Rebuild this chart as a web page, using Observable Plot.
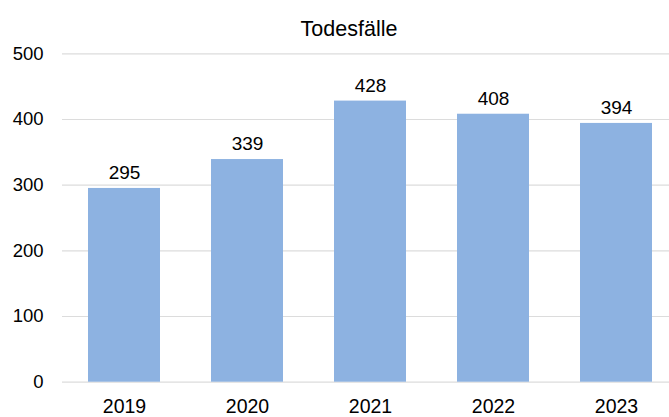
<!DOCTYPE html>
<html>
<head>
<meta charset="utf-8">
<script src="https://cdn.jsdelivr.net/npm/d3@7"></script>
<script src="https://cdn.jsdelivr.net/npm/@observablehq/plot@0.6"></script>
<style>
  html, body { margin: 0; padding: 0; background: #fff; }
  svg { display: block; }
</style>
</head>
<body>
<div id="chart"></div>
<script>
const title = "Todesfälle";
const years = ["2019", "2020", "2021", "2022", "2023"];
const deaths = [295, 339, 428, 408, 394];
const yTicks = [0, 100, 200, 300, 400, 500];

const data = years.map((year, i) => ({ year, value: deaths[i] }));

const chart = Plot.plot({
  width: 669,
  height: 417,
  marginTop: 53.3,
  marginBottom: 35.3,
  marginLeft: 62,
  marginRight: 0,
  style: { fontFamily: "'Liberation Sans', Arial, sans-serif", color: "#000", background: "#fff" },
  x: { domain: years, range: [61, 680], paddingInner: 0.414, paddingOuter: 0.207, label: null },
  y: { domain: [0, 500], label: null },
  marks: [
    Plot.ruleY(yTicks, { stroke: "#dcdcdc", strokeWidth: 1.2 }),
    Plot.barY(data, { x: "year", y: "value", fill: "#8db2e1" }),
    Plot.text(data, { x: "year", y: "value", text: d => String(d.value), lineAnchor: "bottom", dy: -9.5, fontSize: 19, fill: "#000" }),
    Plot.axisY({ ticks: yTicks, tickSize: 0, tickPadding: 19, fontSize: 18.5, tickFormat: d => String(d), fill: "#000" }),
    Plot.axisX({ tickSize: 0, tickPadding: 16.5, fontSize: 19.5, fill: "#000" }),
    Plot.text([title], { frameAnchor: "top", dx: -17, dy: -33.3, fontSize: 21.5, fill: "#000" })
  ]
});
document.getElementById("chart").appendChild(chart);
</script>
</body>
</html>
